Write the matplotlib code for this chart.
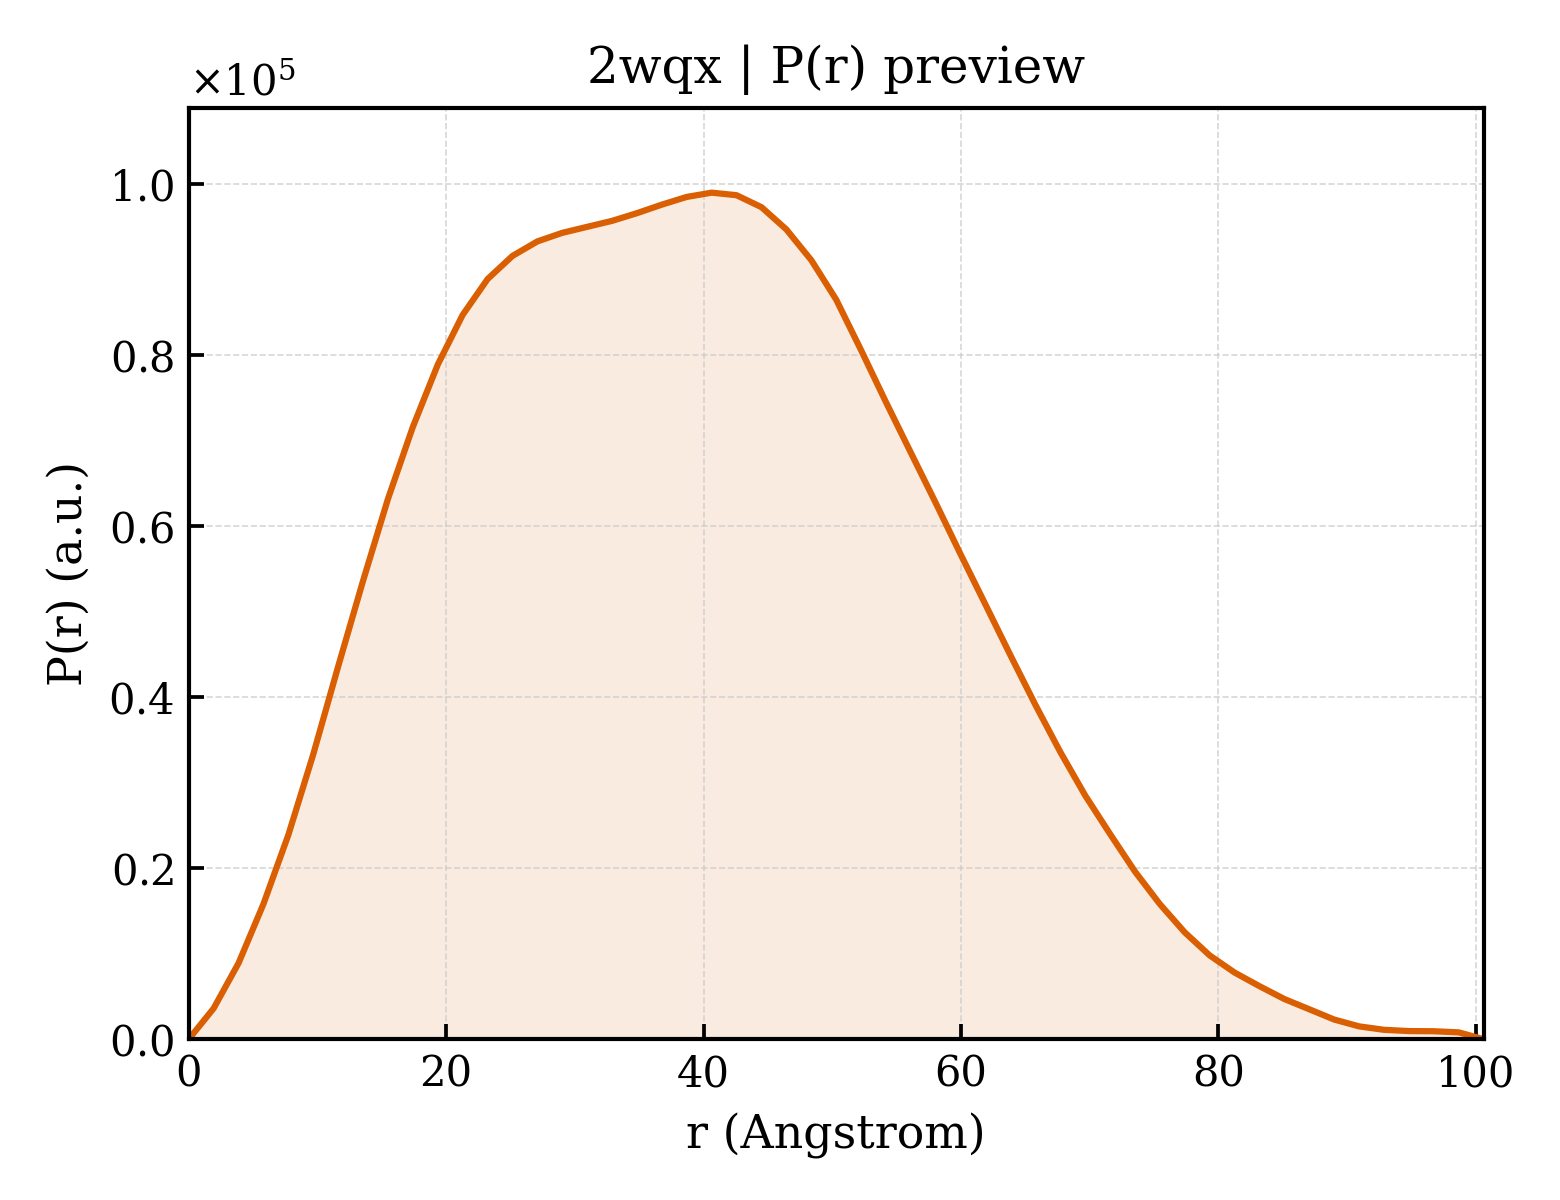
import numpy as np
from matplotlib import pyplot as plt
from matplotlib.ticker import ScalarFormatter

plt.rcParams['font.family'] = 'DejaVu Serif'
plt.rcParams['mathtext.fontset'] = 'dejavuserif'

title = "2wqx | P(r) preview"
xlabel = "r (Angstrom)"
ylabel = "P(r) (a.u.)"

# r grid (Angstrom)
r = [0.00, 1.93, 3.87, 5.80, 7.74, 9.67, 11.61, 13.54, 15.48, 17.41,
     19.35, 21.28, 23.22, 25.15, 27.09, 29.02, 30.95, 32.89, 34.82, 36.76,
     38.69, 40.63, 42.56, 44.50, 46.43, 48.37, 50.30, 52.23, 54.17, 56.10,
     58.04, 59.97, 61.91, 63.84, 65.78, 67.71, 69.65, 71.58, 73.52, 75.45,
     77.38, 79.32, 81.25, 83.19, 85.12, 87.06, 88.99, 90.93, 92.86, 94.80,
     96.73, 98.67, 100.60]

# P(r) in units of 1e5
pr = [0.000, 0.036, 0.089, 0.158, 0.239, 0.333, 0.436, 0.536, 0.632, 0.716,
      0.789, 0.847, 0.889, 0.916, 0.933, 0.943, 0.950, 0.957, 0.966, 0.976,
      0.985, 0.990, 0.987, 0.973, 0.947, 0.911, 0.865, 0.806, 0.745, 0.686,
      0.627, 0.567, 0.508, 0.449, 0.391, 0.336, 0.285, 0.240, 0.196, 0.158,
      0.125, 0.098, 0.078, 0.062, 0.047, 0.035, 0.023, 0.015, 0.011, 0.0095,
      0.0093, 0.0080, 0.000]

r = np.array(r)
pr = np.array(pr) * 1e5

col = '#d95f02'

fig, ax = plt.subplots(figsize=(5.2, 4), dpi=300)
fig.subplots_adjust(left=0.121, right=0.951, bottom=0.134, top=0.91)

ax.fill_between(r, 0, pr, color=col, alpha=0.12, lw=0)
ax.plot(r, pr, color=col, lw=1.5)

ax.set_xlim(0, r.max())
ax.set_ylim(0, pr.max() * 1.1)

fmt = ScalarFormatter(useMathText=True)
fmt.set_powerlimits((0, 0))
ax.yaxis.set_major_formatter(fmt)

ax.tick_params(direction='in', labelsize=10, length=3.5, width=0.9)
ax.grid(True, ls='--', lw=0.4, color='#cccccc', alpha=0.8)
for s in ax.spines.values():
    s.set_linewidth(1.0)

ax.set_xlabel(xlabel, fontsize=11)
ax.set_ylabel(ylabel, fontsize=11)
ax.set_title(title, fontsize=12)

fig.savefig('out.png', dpi=300)
